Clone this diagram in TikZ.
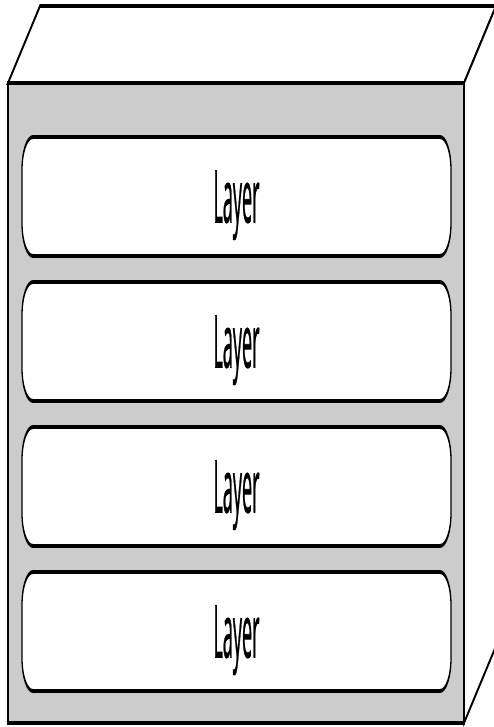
\documentclass[tikz,border=0pt]{standalone}
\usepackage{fontspec}
\setmainfont{Open Sans}
\usepackage{graphicx}
\definecolor{facegray}{HTML}{CCCCCC}
\tikzset{
  edge/.style={draw=black, line width=1.3pt, line join=miter},
  layerbox/.style={edge, fill=white, rounded corners=11pt, minimum width=429pt,
    minimum height=39.67pt, inner sep=0pt, text depth=0pt,
    font=\fontsize{24.3}{28}\selectfont},
}
\newcommand{\layertext}{\resizebox{46pt}{\height}{\addfontfeature{FakeBold=1.2}Layer}}
\begin{document}
\begin{tikzpicture}
\useasboundingbox (0,0) rectangle (493pt,-727pt);
\begin{scope}[transform canvas={yscale=3}, x=1pt, y=-0.333333pt]
  \coordinate (ftl) at (8,83);
  \coordinate (ftr) at (464,83);
  \coordinate (fbl) at (8,723);
  \coordinate (fbr) at (464,723);
  \coordinate (btl) at (40,6);
  \coordinate (btr) at (496,6);
  \coordinate (bbr) at (496,646);
  \draw[edge, fill=white] (ftl) -- (btl) -- (btr) -- (ftr) -- cycle;
  \draw[edge, fill=white] (ftr) -- (btr) -- (bbr) -- (fbr) -- cycle;
  \draw[edge, fill=facegray] (ftl) rectangle (fbr);
  \node[layerbox] (l1) at (236.5,196.5) {\layertext};
  \node[layerbox] (l2) at (236.5,341.5) {\layertext};
  \node[layerbox] (l3) at (236.5,486.5) {\layertext};
  \node[layerbox] (l4) at (236.5,631.5) {\layertext};
\end{scope}
\end{tikzpicture}
\end{document}
